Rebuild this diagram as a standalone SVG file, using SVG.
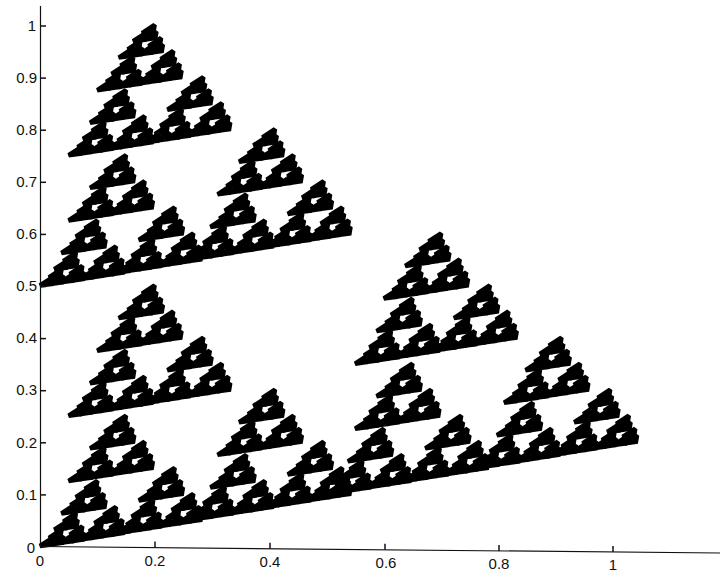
<svg xmlns="http://www.w3.org/2000/svg" xmlns:xlink="http://www.w3.org/1999/xlink" width="720" height="573" viewBox="0 0 720 573">
<style>
.lbl{font-family:"Liberation Sans",Arial,sans-serif;font-size:15px;fill:#111}
.ax{stroke:#111;stroke-width:1.2;fill:none}
.tk{stroke:#111;stroke-width:1.5;fill:none}
.frac{fill:#000;stroke:#000;stroke-width:4.6;stroke-linejoin:miter;stroke-miterlimit:2}
</style>
<defs>
<polygon id="t0" class="frac" vector-effect="non-scaling-stroke" points="0,0 1.04,0.2 0.2,1"/>
<g id="t1"><use href="#t0" xlink:href="#t0" transform="matrix(.5,0,.1,.5,0,0)"/><use href="#t0" xlink:href="#t0" transform="matrix(.5,0,.1,.5,.5,.1)"/><use href="#t0" xlink:href="#t0" transform="matrix(.5,0,.1,.5,0,.5)"/></g>
<g id="t2"><use href="#t1" xlink:href="#t1" transform="matrix(.5,0,.1,.5,0,0)"/><use href="#t1" xlink:href="#t1" transform="matrix(.5,0,.1,.5,.5,.1)"/><use href="#t1" xlink:href="#t1" transform="matrix(.5,0,.1,.5,0,.5)"/></g>
<g id="t3"><use href="#t2" xlink:href="#t2" transform="matrix(.5,0,.1,.5,0,0)"/><use href="#t2" xlink:href="#t2" transform="matrix(.5,0,.1,.5,.5,.1)"/><use href="#t2" xlink:href="#t2" transform="matrix(.5,0,.1,.5,0,.5)"/></g>
<g id="t4"><use href="#t3" xlink:href="#t3" transform="matrix(.5,0,.1,.5,0,0)"/><use href="#t3" xlink:href="#t3" transform="matrix(.5,0,.1,.5,.5,.1)"/><use href="#t3" xlink:href="#t3" transform="matrix(.5,0,.1,.5,0,.5)"/></g>
<g id="t5"><use href="#t4" xlink:href="#t4" transform="matrix(.5,0,.1,.5,0,0)"/><use href="#t4" xlink:href="#t4" transform="matrix(.5,0,.1,.5,.5,.1)"/><use href="#t4" xlink:href="#t4" transform="matrix(.5,0,.1,.5,0,.5)"/></g>
<g id="t6"><use href="#t5" xlink:href="#t5" transform="matrix(.5,0,.1,.5,0,0)"/><use href="#t5" xlink:href="#t5" transform="matrix(.5,0,.1,.5,.5,.1)"/><use href="#t5" xlink:href="#t5" transform="matrix(.5,0,.1,.5,0,.5)"/></g>
</defs>
<rect width="720" height="573" fill="#fff"/>
<g id="fractal"><use href="#t6" xlink:href="#t6" transform="matrix(573,0,0,-521,40,546)"/></g>
<g id="axes">
<line class="ax" x1="40.5" y1="6" x2="40.5" y2="547"/>
<line class="ax" x1="40" y1="546.5" x2="720" y2="553"/>
<g id="yticks">
<line class="tk" x1="40" y1="26" x2="46" y2="26"/>
<line class="tk" x1="40" y1="78.1" x2="46" y2="78.1"/>
<line class="tk" x1="40" y1="130.2" x2="46" y2="130.2"/>
<line class="tk" x1="40" y1="182.3" x2="46" y2="182.3"/>
<line class="tk" x1="40" y1="234.4" x2="46" y2="234.4"/>
<line class="tk" x1="40" y1="286.5" x2="46" y2="286.5"/>
<line class="tk" x1="40" y1="338.6" x2="46" y2="338.6"/>
<line class="tk" x1="40" y1="390.7" x2="46" y2="390.7"/>
<line class="tk" x1="40" y1="442.8" x2="46" y2="442.8"/>
<line class="tk" x1="40" y1="494.9" x2="46" y2="494.9"/>
</g>
<g id="xticks">
<line class="tk" x1="155" y1="547.6" x2="155" y2="541.6"/>
<line class="tk" x1="270" y1="548.7" x2="270" y2="542.7"/>
<line class="tk" x1="385" y1="549.8" x2="385" y2="543.8"/>
<line class="tk" x1="499" y1="550.9" x2="499" y2="544.9"/>
<line class="tk" x1="613" y1="552" x2="613" y2="546"/>
</g>
</g>
<g id="ylabels" class="lbl" text-anchor="end">
<text x="36" y="31">1</text>
<text x="37" y="83">0.9</text>
<text x="37" y="135">0.8</text>
<text x="37" y="187">0.7</text>
<text x="37" y="239">0.6</text>
<text x="37" y="291">0.5</text>
<text x="37" y="343">0.4</text>
<text x="37" y="395">0.3</text>
<text x="37" y="448">0.2</text>
<text x="37" y="500">0.1</text>
<text x="35" y="553">0</text>
</g>
<g id="xlabels" class="lbl" text-anchor="middle">
<text x="40" y="566">0</text>
<text x="155" y="566">0.2</text>
<text x="270" y="567">0.4</text>
<text x="386" y="568">0.6</text>
<text x="499" y="569">0.8</text>
<text x="613" y="570">1</text>
</g>
</svg>
